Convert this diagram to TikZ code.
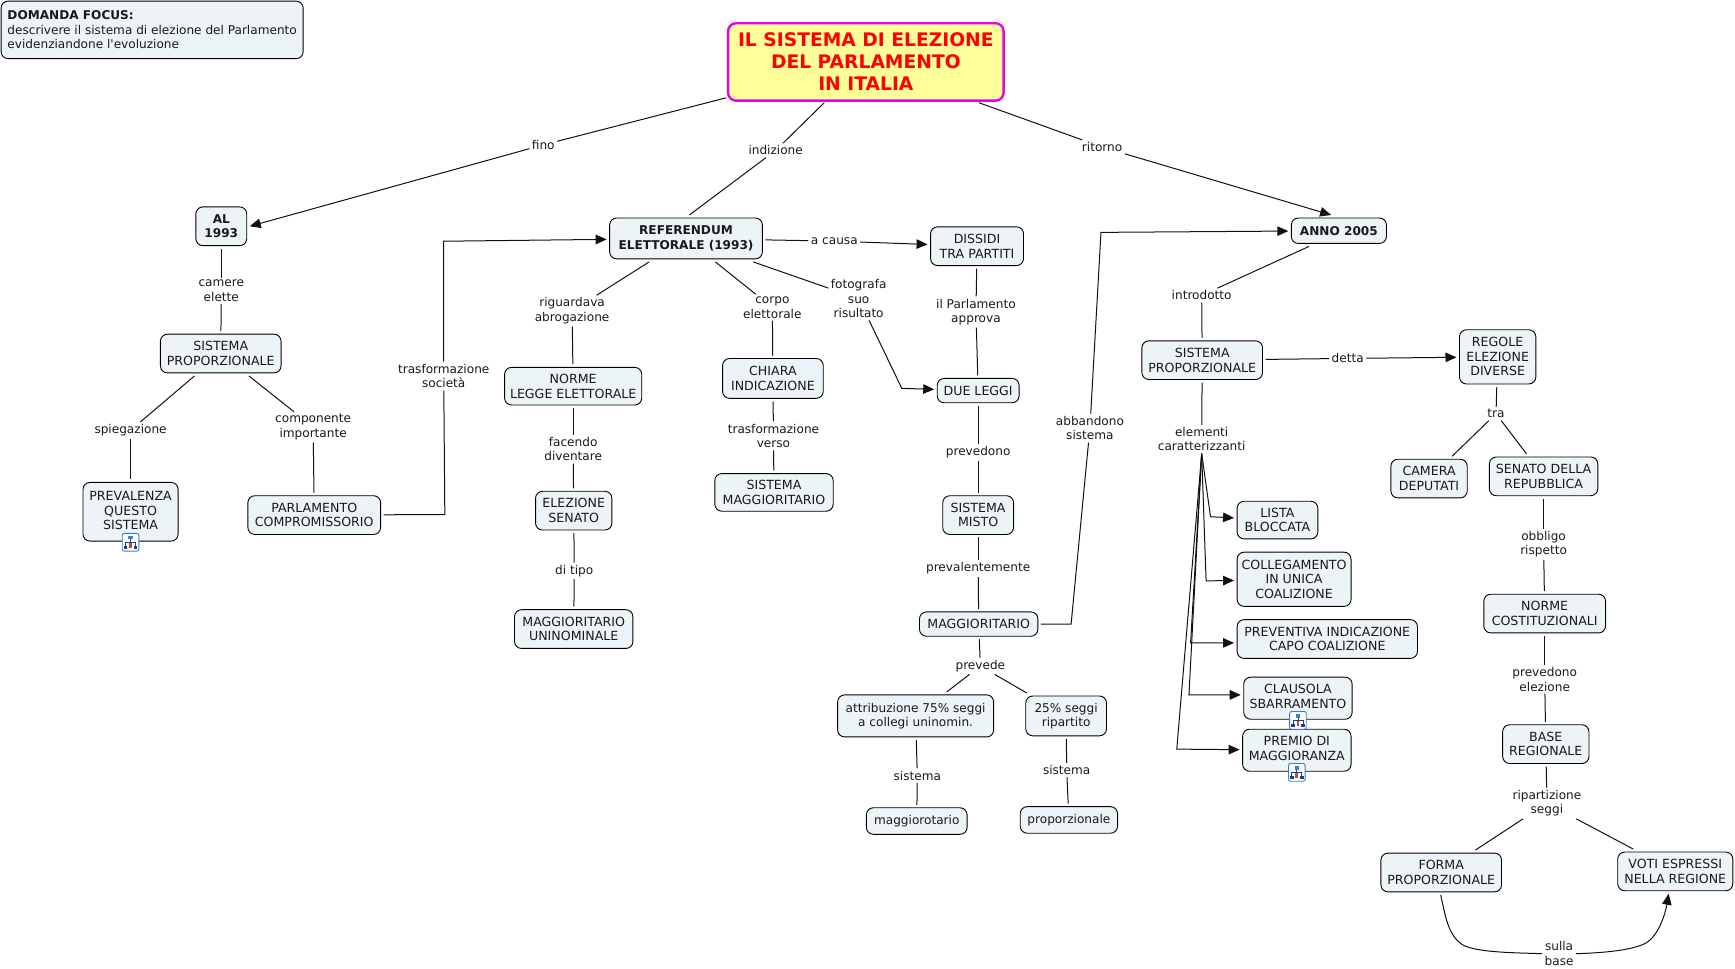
\documentclass[tikz,border=0pt]{standalone}
\usepackage{fontspec}
\setmainfont{DejaVu Sans}
\newfontfamily\plainfnt{DejaVu Sans}
\usetikzlibrary{arrows.meta}
\definecolor{boxfill}{HTML}{EDF4F7}
\definecolor{linkcol}{HTML}{111111}
\definecolor{titlefill}{HTML}{FFFF99}
\definecolor{titleedge}{HTML}{E800E8}
\definecolor{iconblue}{HTML}{3B7FD0}
\definecolor{icondark}{HTML}{1F3F80}
\definecolor{iconred}{HTML}{C05030}
\tikzset{
  conc/.style={draw=black,line width=0.9pt,fill=boxfill,rounded corners=7pt,inner sep=0pt,outer sep=3pt,align=center,text=black!90,font=\fontsize{12.6}{14.5}\selectfont},
  lconc/.style={conc,font=\fontsize{12.1}{14.5}\selectfont},
  bconc/.style={conc,font=\fontsize{12.1}{14.5}\selectfont\bfseries},
  titleconc/.style={conc,draw=titleedge,line width=2.4pt,fill=titlefill,text=red,rounded corners=8pt,outer sep=2pt,font=\fontsize{18.7}{22}\selectfont\bfseries},
  focusconc/.style={conc,align=left,font=\fontsize{12.1}{14.5}\selectfont},
  lab/.style={inner sep=1.5pt,outer sep=1pt,yshift=-1pt,align=center,text=black!90,font=\fontsize{12.1}{14.5}\selectfont},
  link/.style={draw=linkcol,line width=1pt},
  arr/.style={link,-{Triangle[length=11pt,width=9.5pt]}},
  treeicon/.pic={
    \draw[iconblue,fill=white,line width=0.9pt,rounded corners=2pt] (-7.5,-8) rectangle (7.5,8);
    \draw[icondark,line width=0.8pt] (0,-3) -- (0,0) (-4.5,4) -- (-4.5,0) -- (4.5,0) -- (4.5,4);
    \fill[iconblue] (-2,-6) rectangle (2,-2.5);
    \fill[iconred] (-1.3,1) rectangle (1.3,5);
    \fill[icondark] (-6.2,3) rectangle (-3,6.2);
    \fill[icondark] (3,3) rectangle (6.2,6.2);
  }
}
\newcommand{\nd}[7][conc]{%
  \node[#1,minimum width={(#5-#3)*1.1065pt},minimum height={(#6-#4)*1.1065pt}] (#2) at ({(#3+#5)/2},{(#4+#6)/2}) {#7};}
\newcommand{\lb}[4]{\node[lab] (#1) at (#2,#3) {#4};}
\begin{document}
\begin{tikzpicture}[x=1.1065pt,y=-1.1065pt]
\useasboundingbox (0,0) rectangle (1568,875);
% concepts
\nd[titleconc]{title}{658}{21}{907}{91}{IL SISTEMA DI ELEZIONE\\DEL PARLAMENTO\\IN ITALIA}
\nd[focusconc]{focus}{1}{1}{274}{53}{\textbf{DOMANDA FOCUS:}\\descrivere il sistema di elezione del Parlamento\\evidenziandone l{\plainfnt '}evoluzione}
\nd[bconc]{al}{177}{187}{223}{222}{AL\\1993}
\nd{spa}{145}{302}{254}{337}{SISTEMA\\PROPORZIONALE}
\nd{prevq}{75}{436}{161}{489}{PREVALENZA\\QUESTO\\SISTEMA\\[-12.5pt]~}
\nd{parl}{224}{448}{344}{483}{PARLAMENTO\\COMPROMISSORIO}
\nd[bconc]{ref}{551}{197}{689}{234}{REFERENDUM\\ELETTORALE (1993)}
\nd{norme}{456}{332}{580}{366}{NORME\\LEGGE ELETTORALE}
\nd{els}{484}{444}{553}{479}{ELEZIONE\\SENATO}
\nd{mago}{465}{551}{572}{586}{MAGGIORITARIO\\UNINOMINALE}
\nd{chiara}{653}{324}{744}{360}{CHIARA\\INDICAZIONE}
\nd{smag}{646}{428}{753}{462}{SISTEMA\\MAGGIORITARIO}
\nd{dis}{841}{205}{925}{240}{DISSIDI\\TRA PARTITI}
\nd{due}{847}{342}{921}{364}{DUE LEGGI}
\nd{misto}{852}{448}{916}{483}{SISTEMA\\MISTO}
\nd{magg}{831}{553}{938}{575}{MAGGIORITARIO}
\nd[lconc]{attr}{757}{628}{898}{666}{attribuzione 75\% seggi\\a collegi uninomin.}
\nd[lconc]{qsegg}{927}{629}{1000}{665}{25\% seggi\\ripartito}
\nd[lconc]{maggr}{783}{730}{874}{754}{maggiorotario}
\nd[lconc]{propz}{922}{729}{1010}{753}{proporzionale}
\nd[bconc]{anno}{1167}{197}{1253}{220}{ANNO 2005}
\nd{spb}{1032}{308}{1141}{343}{SISTEMA\\PROPORZIONALE}
\nd{regole}{1319}{298}{1388}{347}{REGOLE\\ELEZIONE\\DIVERSE}
\nd{cam}{1257}{415}{1326}{450}{CAMERA\\DEPUTATI}
\nd{sen}{1346}{413}{1444}{448}{SENATO DELLA\\REPUBBLICA}
\nd{lista}{1118}{453}{1191}{487}{LISTA\\BLOCCATA}
\nd{coll}{1118}{499}{1221}{548}{COLLEGAMENTO\\IN UNICA\\COALIZIONE}
\nd{prevc}{1118}{560}{1281}{595}{PREVENTIVA INDICAZIONE\\CAPO COALIZIONE}
\nd{claus}{1124}{612}{1222}{650}{CLAUSOLA\\SBARRAMENTO\\[-10.5pt]~}
\nd{prem}{1123}{659}{1221}{697}{PREMIO DI\\MAGGIORANZA\\[-10.5pt]~}
\nd{ncos}{1341}{537}{1451}{572}{NORME\\COSTITUZIONALI}
\nd{base}{1358}{655}{1436}{690}{BASE\\REGIONALE}
\nd{forma}{1248}{771}{1357}{806}{FORMA\\PROPORZIONALE}
\nd{voti}{1462}{770}{1566}{805}{VOTI ESPRESSI\\NELLA REGIONE}
% icons
\pic at (118,490) {treeicon};
\pic at (1173,651) {treeicon};
\pic at (1172,698) {treeicon};
% link labels
\lb{lfino}{491}{130}{fino}
\lb{lind}{701}{135}{indizione}
\lb{lrit}{996}{132}{ritorno}
\lb{lcam}{200}{262}{camere\\elette}
\lb{lspi}{118}{388}{spiegazione}
\lb{lcom}{283}{385}{componente\\importante}
\lb{ltra}{401}{339}{trasformazione\\società}
\lb{lcau}{754}{217}{a causa}
\lb{lrig}{517}{280}{riguardava\\abrogazione}
\lb{lcor}{698}{277}{corpo\\elettorale}
\lb{lfot}{776}{269}{fotografa\\suo\\risultato}
\lb{lfac}{518}{405}{facendo\\diventare}
\lb{ldit}{519}{515}{di tipo}
\lb{ltrv}{699}{393}{trasformazione\\verso}
\lb{lpar}{882}{281}{il Parlamento\\approva}
\lb{lpre}{884}{408}{prevedono}
\lb{lpvl}{884}{513}{prevalentemente}
\lb{lpvd}{886}{601}{prevede}
\lb{lsia}{829}{700}{sistema}
\lb{lsib}{964}{695}{sistema}
\lb{labb}{985}{386}{abbandono\\sistema}
\lb{lint}{1086}{266}{introdotto}
\lb{ldet}{1218}{323}{detta}
\lb{lele}{1086}{396}{elementi\\caratterizzanti}
\lb{ltr}{1352}{373}{tra}
\lb{lobb}{1395}{491}{obbligo\\rispetto}
\lb{lpel}{1396}{613}{prevedono\\elezione}
\lb{lrip}{1398}{725}{ripartizione\\seggi}
\lb{lsul}{1409}{861}{sulla\\base}
% bend points
\coordinate (ea) at (402,465);
\coordinate (eb) at (401,218);
\coordinate (ec) at (815,351);
\coordinate (ed) at (968,564);
\coordinate (ee) at (995,210);
\coordinate (fa) at (1094,467);
\coordinate (fb) at (1090,525);
\coordinate (fc) at (1076,581);
\coordinate (fd) at (1074.5,628);
\coordinate (fe) at (1063.5,677);
\coordinate (ga) at (1322,854);
\coordinate (gb) at (1488,852);
% connectors
\draw[link] (title) -- (lfino);
\draw[arr] (lfino) -- (al.east);
\draw[link] (title) -- (lind);
\draw[link] (lind) -- ([shift={(3,0)}]ref.north);
\draw[link] (title) -- (lrit);
\draw[arr] (lrit) -- ([shift={(-7,0)}]anno.north);
\draw[link] (al) -- (lcam);
\draw[link] (lcam) -- (spa);
\draw[link] (spa) -- (lspi);
\draw[link] (lspi) -- (prevq);
\draw[link] (spa) -- (lcom);
\draw[link] (lcom) -- (parl);
\draw[link] (parl) -- (ea) -- (ltra);
\draw[arr] (ltra) -- (eb) -- (ref);
\draw[link] (ref) -- (lrig);
\draw[link] (lrig) -- (norme);
\draw[link] (norme) -- (lfac);
\draw[link] (lfac) -- (els);
\draw[link] (els) -- (ldit);
\draw[link] (ldit) -- (mago);
\draw[link] (ref) -- (lcor);
\draw[link] (lcor) -- (chiara);
\draw[link] (chiara) -- (ltrv);
\draw[link] (ltrv) -- (smag);
\draw[link] (ref) -- (lfot);
\draw[arr] (lfot) -- (ec) -- (due);
\draw[link] (ref) -- (lcau);
\draw[arr] (lcau) -- (dis);
\draw[link] (dis) -- (lpar);
\draw[link] (lpar) -- (due);
\draw[link] (due) -- (lpre);
\draw[link] (lpre) -- (misto);
\draw[link] (misto) -- (lpvl);
\draw[link] (lpvl) -- (magg);
\draw[link] (magg) -- (lpvd);
\draw[link] (lpvd) -- (attr);
\draw[link] (lpvd) -- (qsegg);
\draw[link] (attr) -- (lsia);
\draw[link] (lsia) -- (maggr);
\draw[link] (qsegg) -- (lsib);
\draw[link] (lsib) -- (propz);
\draw[link] (magg) -- (ed) -- (labb);
\draw[arr] (labb) -- (ee) -- (anno);
\draw[link] ([shift={(-27,0)}]anno.south) -- (lint);
\draw[link] (lint) -- (spb);
\draw[link] (spb) -- (ldet);
\draw[arr] (ldet) -- (regole);
\draw[link] (spb) -- (lele);
\draw[arr] (lele.south) -- (fa) -- (lista);
\draw[arr] (lele.south) -- (fb) -- (coll);
\draw[arr] (lele.south) -- (fc) -- (prevc.west |- fc);
\draw[arr] (lele.south) -- (fd) -- (claus.west |- fd);
\draw[arr] (lele.south) -- (fe) -- (prem);
\draw[link] (regole) -- (ltr);
\draw[link] (ltr) -- (cam);
\draw[link] (ltr) -- (sen);
\draw[link] (sen) -- (lobb);
\draw[link] (lobb) -- (ncos);
\draw[link] (ncos) -- (lpel);
\draw[link] (lpel) -- (base);
\draw[link] (base) -- (lrip);
\draw[link] (lrip) -- (forma);
\draw[link] (lrip) -- (voti);
\draw[link] ([shift={(-0.5,0)}]forma.south) .. controls (1306,826) and (1308,845) .. (ga) .. controls (1335,861) and (1370,861) .. (lsul.west);
\draw[arr] (lsul.east) .. controls (1450,861) and (1475,859) .. (gb) .. controls (1499,845) and (1505,826) .. ([shift={(-6,0)}]voti.south);
\end{tikzpicture}
\end{document}
